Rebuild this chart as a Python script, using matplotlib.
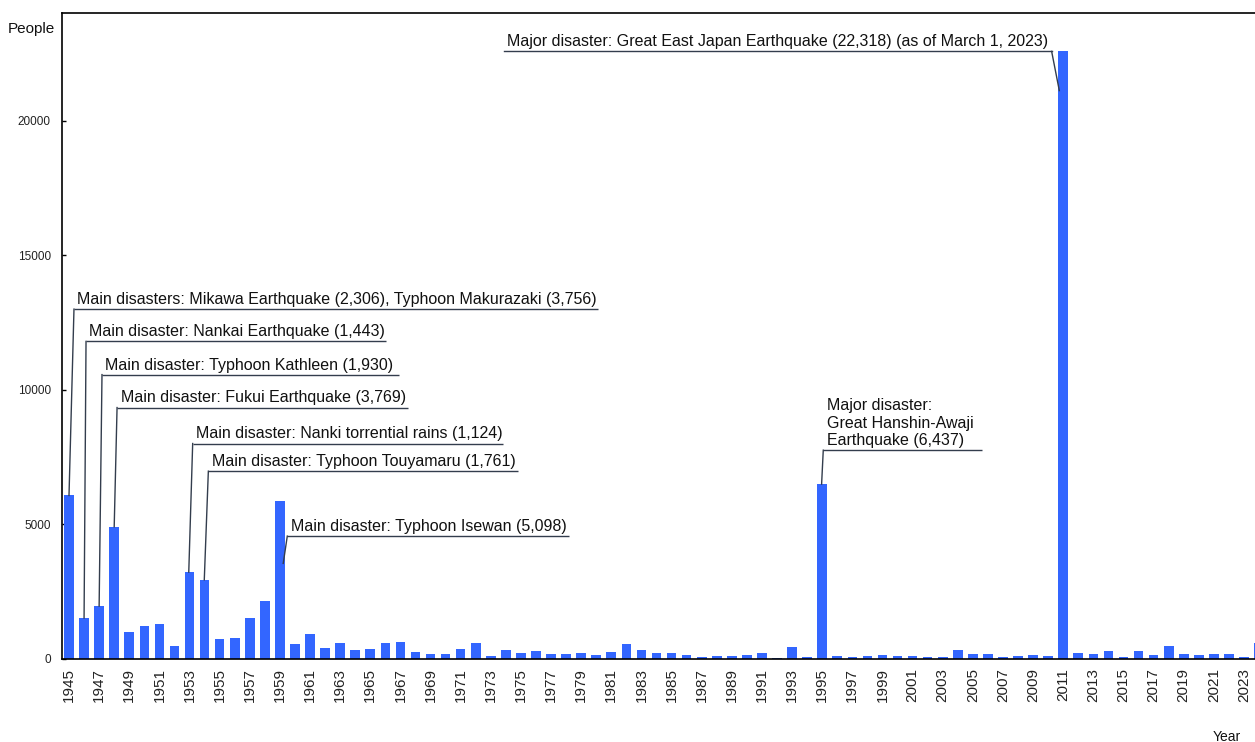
import numpy as np
import matplotlib
matplotlib.use("Agg")
import matplotlib.pyplot as plt

plt.rcParams['font.family'] = ['Liberation Sans', 'DejaVu Sans']

# 自然災害による死者・行方不明者数 (1945-2024)
years = list(range(1945, 2025))
deaths = [
    6062, 1504, 1950, 4897, 975, 1210, 1291, 449, 3212, 2926,   # 1945-1954
    727, 765, 1515, 2120, 5868, 528, 902, 381, 575, 307,        # 1955-1964
    367, 578, 607, 259, 183, 163, 350, 587, 85, 324,            # 1965-1974
    213, 273, 174, 153, 208, 148, 232, 524, 301, 199,           # 1975-1984
    199, 148, 69, 93, 96, 123, 190, 19, 438, 39,                # 1985-1994
    6482, 84, 71, 109, 141, 78, 90, 48, 62, 327,                # 1995-2004
    153, 177, 39, 100, 115, 89, 22575, 190, 173, 280,           # 2005-2014
    65, 297, 129, 452, 159, 128, 150, 180, 70, 560,             # 2015-2024
]

ytick_vals = [0, 5000, 10000, 15000, 20000]
xtick_years = list(range(1945, 2024, 2))

# 注記: (年, テキスト, 下線の左端, 下線の右端, 下線の高さ, 先端のずれ(年), 先端の下がり(人))
notes = [
    (1945, "Main disasters: Mikawa Earthquake (2,306), Typhoon Makurazaki (3,756)",
     1945.33, 1980.11, 12990, 0.0, 0),
    (1946, "Main disaster: Nankai Earthquake (1,443)",
     1946.13, 1966.04, 11790, 0.0, 0),
    (1947, "Main disaster: Typhoon Kathleen (1,930)",
     1947.19, 1966.90, 10555, 0.0, 0),
    (1948, "Main disaster: Fukui Earthquake (3,769)",
     1948.19, 1967.50, 9330, 0.0, 0),
    (1953, "Main disaster: Nanki torrential rains (1,124)",
     1953.21, 1973.79, 7993, -0.05, 0),
    (1954, "Main disaster: Typhoon Touyamaru (1,761)",
     1954.25, 1974.83, 6964, -0.02, 0),
    (1959, "Main disaster: Typhoon Isewan (5,098)",
     1959.49, 1978.19, 4550, 0.22, 2332),
    (1995, "Major disaster:\nGreat Hanshin-Awaji\nEarthquake (6,437)",
     1995.07, 2005.58, 7744, -0.04, 0),
]
east_japan = (2011, "Major disaster: Great East Japan Earthquake (22,318) (as of March 1, 2023)",
              1973.87, 2010.23, 22574, -0.26, 1461)

bar_color = '#3366ff'
line_color = '#333d4d'

fig = plt.figure(figsize=(12.55, 7.42), dpi=100)
ax = fig.add_axes([62 / 1255, 1 - 658.5 / 742, (1255 - 62) / 1255, (658.5 - 13) / 742])

ax.bar(years, deaths, width=0.64, color=bar_color, edgecolor='none', zorder=2)

ax.set_xlim(1944.535, 2023.73)
ax.set_ylim(0, 24000)

ax.set_yticks(ytick_vals)
ax.set_yticklabels([str(v) for v in ytick_vals], fontsize=8.5, color='#222222')
ax.set_xticks(xtick_years)
ax.set_xticklabels([str(y) for y in xtick_years], rotation=90, fontsize=11, color='#222222')
ax.tick_params(axis='y', direction='in', length=3, width=1, pad=8)
ax.tick_params(axis='x', length=0, pad=7)

for side in ['left', 'bottom', 'top']:
    ax.spines[side].set_linewidth(1.2)
    ax.spines[side].set_color('black')
ax.spines['right'].set_visible(False)

val = dict(zip(years, deaths))

for yr, txt, x0, x1, ly, dx, drop in notes:
    ax.plot([x0, x1], [ly, ly], color=line_color, lw=1, zorder=3, solid_capstyle='butt')
    ax.plot([x0, yr + dx], [ly, val[yr] - drop], color=line_color, lw=1, zorder=3)
    ax.annotate(txt, xy=(x0, ly), xytext=(2.5, 1.5), textcoords='offset points',
                ha='left', va='bottom', fontsize=11.5, color='#111111', linespacing=1.2)

yr, txt, x0, x1, ly, dx, drop = east_japan
ax.plot([x0, x1], [ly, ly], color=line_color, lw=1, zorder=3)
ax.plot([x1, yr + dx], [ly, val[yr] - drop], color=line_color, lw=1, zorder=3)
ax.annotate(txt, xy=(x0, ly), xytext=(2.5, 1.5), textcoords='offset points',
            ha='left', va='bottom', fontsize=11.5, color='#111111')

fig.text(8 / 1255, 1 - 29 / 742, "People", fontsize=11, ha='left', va='center', color='#111111')
fig.text(1227 / 1255, 1 - 737 / 742, "Year", fontsize=10, ha='center', va='center', color='#111111')

fig.savefig('out.png', dpi=100)
